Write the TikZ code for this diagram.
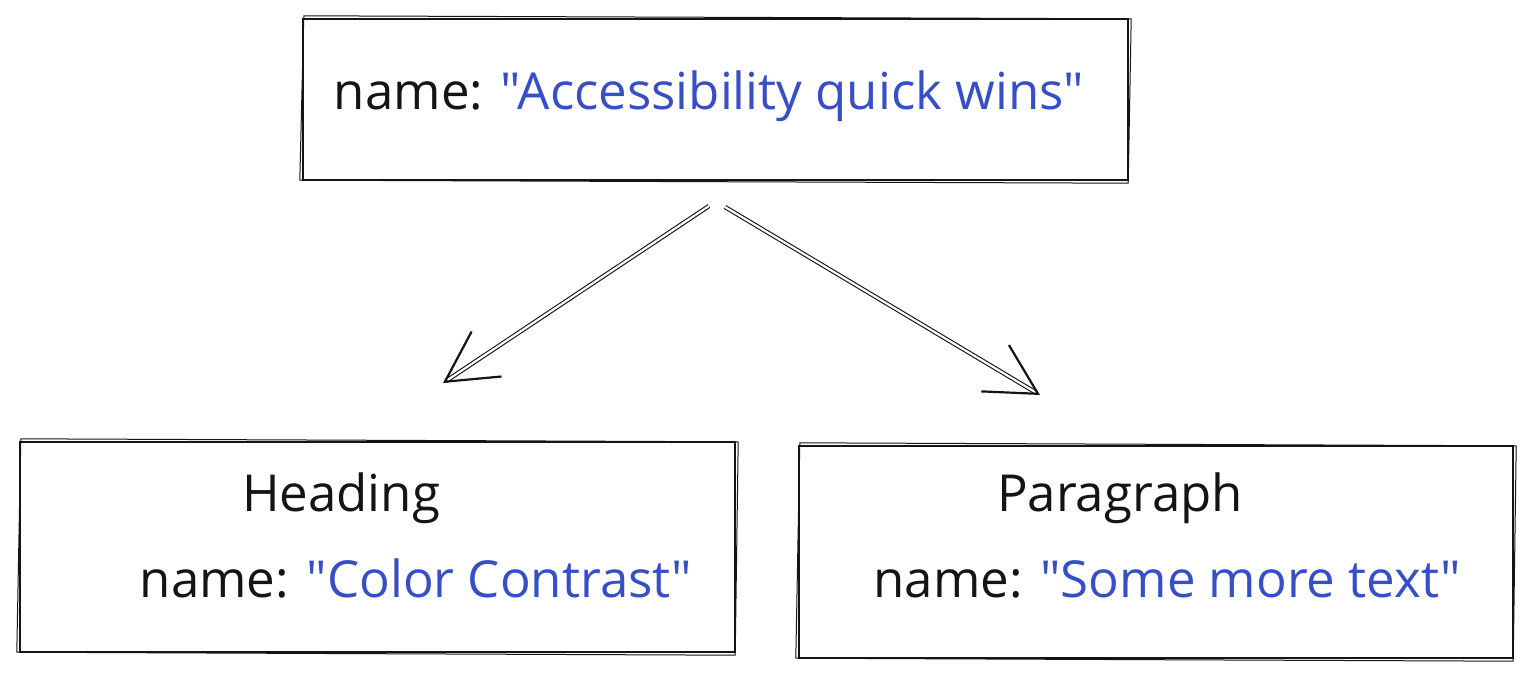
\documentclass[tikz,border=0pt]{standalone}
\usepackage{fontspec}
\setmainfont{Open Sans}[Ligatures=TeXOff]
\usetikzlibrary{arrows.meta}
\definecolor{inkblue}{RGB}{54,79,199}
\definecolor{ink}{RGB}{20,20,20}
\tikzset{
  box/.style={draw=ink, line width=2.4pt, rectangle, inner sep=0pt},
  boxsketch/.style={draw=ink, line width=1pt},
  label/.style={anchor=base, inner sep=0pt, text=ink, font=\fontsize{51}{60}\selectfont},
  conn/.style={draw=ink, line width=1.1pt, double=white, double distance=2.2pt,
    -{Straight Barb[length=50pt, width=54pt, line width=2.2pt]}},
}
\begin{document}
\begin{tikzpicture}[x=1pt,y=-1pt]
\useasboundingbox (0,0) rectangle (1531,677);
% boxes
\node[box, minimum width=825pt, minimum height=161pt] (top) at (715.5,99.5) {};
\node[box, minimum width=715pt, minimum height=210pt] (head) at (377.5,547) {};
\node[box, minimum width=714pt, minimum height=212pt] (para) at (1156,552) {};
% sketchy second strokes
\draw[boxsketch] (top.north west) ++(2,-2) -- ([shift={(2,1)}]top.north east) -- ([shift={(-1,2)}]top.south east) -- ([shift={(-2,-1)}]top.south west) -- cycle;
\draw[boxsketch] (head.north west) ++(2,-2) -- ([shift={(2,1)}]head.north east) -- ([shift={(-1,2)}]head.south east) -- ([shift={(-2,-1)}]head.south west) -- cycle;
\draw[boxsketch] (para.north west) ++(2,-2) -- ([shift={(2,1)}]para.north east) -- ([shift={(-1,2)}]para.south east) -- ([shift={(-2,-1)}]para.south west) -- cycle;
% texts
\node[label] (toptext) at (709,110) {name: \textcolor{inkblue}{"Accessibility quick wins"}};
\node[label] (headtitle) at (341,511) {Heading};
\node[label] (headtext) at (416,597) {name: \textcolor{inkblue}{"Color Contrast"}};
\node[label] (paratitle) at (1120,511) {Paragraph};
\node[label] (paratext) at (1167,597) {name: \textcolor{inkblue}{"Some more text"}};
% connector ends
\coordinate (s1) at (709,206);
\coordinate (e1) at (443,383);
\coordinate (s2) at (725,207);
\coordinate (e2) at (1040,395);
\draw[conn] (s1) -- (e1);
\draw[conn] (s2) -- (e2);
\end{tikzpicture}
\end{document}
